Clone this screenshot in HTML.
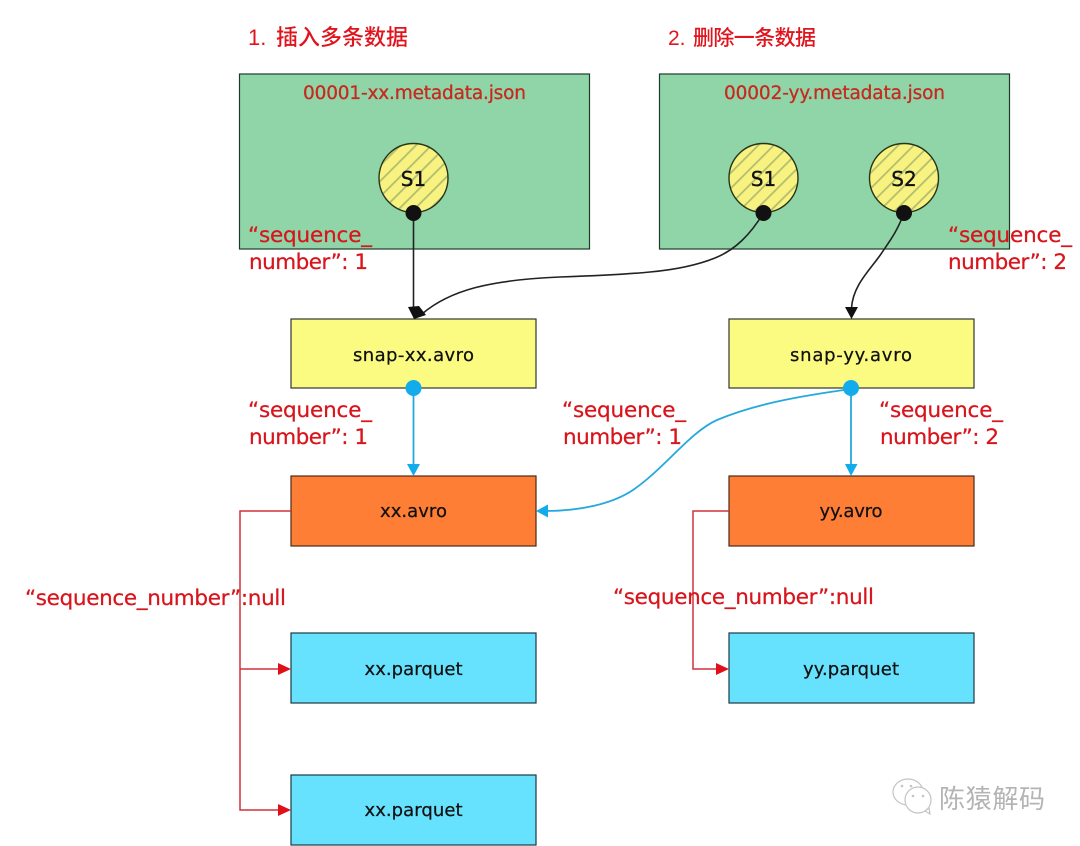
<!DOCTYPE html>
<html><head><meta charset="utf-8"><style>
html,body{margin:0;padding:0;background:#fff}
svg{display:block;filter:blur(.35px)}
text{font-family:"DejaVu Sans","Liberation Sans","Noto Sans CJK SC",sans-serif}
.r{fill:#d8141c;font-size:21.5px;stroke:#d8141c;stroke-width:.25}
.n{fill:#111;font-size:18px;text-anchor:middle;stroke:#111;stroke-width:.25}
.s{fill:#111;font-size:20px;text-anchor:middle;stroke:#111;stroke-width:.35}
.t{fill:#c8281e;font-size:18.500px;stroke:#c8281e;stroke-width:.3}
.h{fill:#e0141c;font-family:"Liberation Sans","Noto Sans CJK SC",sans-serif;font-weight:500}
</style></head><body>
<svg width="1080" height="846" viewBox="0 0 1080 846" xmlns="http://www.w3.org/2000/svg">
<defs>
<pattern id="hatch" width="11" height="11" patternUnits="userSpaceOnUse" patternTransform="rotate(-45)">
<rect width="11" height="11" fill="#f8f280"/><rect width="11" height="1.800" fill="#b4bd6e"/>
</pattern>
</defs>
<rect width="1080" height="846" fill="#fff"/>

<text class="h" x="248" y="45" font-size="22">1.</text>
<text class="h" x="276" y="45" font-size="22" textLength="132">插入多条数据</text>
<text class="h" x="668" y="45" font-size="21">2.</text>
<text class="h" x="693" y="45" font-size="21" textLength="123">删除一条数据</text>

<rect x="239.500" y="74" width="350" height="175" fill="#8fd5a8" stroke="#1f3a2a" stroke-width="1.2"/>
<rect x="659.500" y="74" width="350" height="175" fill="#8fd5a8" stroke="#1f3a2a" stroke-width="1.2"/>
<text class="t" x="303" y="99" textLength="223">00001-xx.metadata.json</text>
<text class="t" x="724" y="99" textLength="221">00002-yy.metadata.json</text>

<circle cx="413.500" cy="178" r="34.500" fill="url(#hatch)" stroke="#26341a" stroke-width="1.4"/>
<circle cx="763.500" cy="178" r="34.500" fill="url(#hatch)" stroke="#26341a" stroke-width="1.4"/>
<circle cx="904" cy="178" r="34.500" fill="url(#hatch)" stroke="#26341a" stroke-width="1.4"/>
<text class="s" x="413.500" y="186">S1</text>
<text class="s" x="763.500" y="186">S1</text>
<text class="s" x="904" y="186">S2</text>

<rect x="291" y="319" width="245" height="69" fill="#fbfb82" stroke="#333" stroke-width="1.2"/>
<rect x="729" y="319" width="245" height="69" fill="#fbfb82" stroke="#333" stroke-width="1.2"/>
<rect x="291" y="476" width="245" height="70" fill="#fe7e36" stroke="#4a2a18" stroke-width="1.2"/>
<rect x="729" y="476" width="245" height="70" fill="#fe7e36" stroke="#4a2a18" stroke-width="1.2"/>
<rect x="291" y="633" width="245" height="70" fill="#66e2fe" stroke="#1c3a44" stroke-width="1.2"/>
<rect x="729" y="633" width="245" height="70" fill="#66e2fe" stroke="#1c3a44" stroke-width="1.2"/>
<rect x="291" y="775" width="245" height="70" fill="#66e2fe" stroke="#1c3a44" stroke-width="1.2"/>

<text class="n" x="413.500" y="361" textLength="121">snap-xx.avro</text>
<text class="n" x="851" y="361" textLength="122">snap-yy.avro</text>
<text class="n" x="413.500" y="517" textLength="67">xx.avro</text>
<text class="n" x="851" y="517" textLength="63">yy.avro</text>
<text class="n" x="413.500" y="675" textLength="98">xx.parquet</text>
<text class="n" x="851" y="675" textLength="96">yy.parquet</text>
<text class="n" x="413.500" y="816" textLength="98">xx.parquet</text>

<!-- black connectors -->
<g fill="none" stroke="#222" stroke-width="1.6">
<path d="M413.500 213V312"/>
<path d="M763.500 213C750 235 735 250 715 258C695 266 672 270 650 272C620 275 590 276 560 277C490 280 450 290 422 314"/>
<path d="M904 213C897 232 889 242 881 254C870 270 853 285 851.500 308"/>
</g>
<circle cx="413.500" cy="213" r="8" fill="#111"/>
<circle cx="763.500" cy="213" r="8" fill="#111"/>
<circle cx="904" cy="213" r="8" fill="#111"/>
<path d="M408 307L419 306L426 315L414 319Z" fill="#111"/>
<path d="M845 307H858L851.500 319Z" fill="#111"/>

<!-- blue connectors -->
<g fill="none" stroke="#25a9dc" stroke-width="1.8">
<path d="M413.500 388V465"/>
<path d="M851 388V465"/>
<path d="M851 389C800 396 755 404 717 420C690 432 665 468 633 490C612 504 580 511 545 511"/>
</g>
<circle cx="413.500" cy="388" r="8" fill="#12acec"/>
<circle cx="851" cy="388" r="8" fill="#12acec"/>
<path d="M407 464H420L413.500 476Z" fill="#12acec"/>
<path d="M845 464H857.500L851 476Z" fill="#12acec"/>
<path d="M536 511L548 504.500V517.500Z" fill="#12acec"/>

<!-- red connectors -->
<g fill="none" stroke="#d03038" stroke-width="1.5">
<path d="M291 511H240V810H280"/>
<path d="M240 669H280"/>
<path d="M729 511H693V669H718"/>
</g>
<path d="M291 669L278 663V675Z" fill="#e01018"/>
<path d="M291 810L278 804V816Z" fill="#e01018"/>
<path d="M729 669L716 663V675Z" fill="#e01018"/>

<!-- labels -->
<text class="r" x="248" y="242" textLength="124">“sequence_</text>
<text class="r" x="249" y="269" textLength="119">number”: 1</text>
<text class="r" x="948" y="242" textLength="124">“sequence_</text>
<text class="r" x="948" y="269" textLength="119">number”: 2</text>
<text class="r" x="248" y="417" textLength="124">“sequence_</text>
<text class="r" x="249" y="444" textLength="119">number”: 1</text>
<text class="r" x="562" y="417" textLength="124">“sequence_</text>
<text class="r" x="563" y="444" textLength="119">number”: 1</text>
<text class="r" x="879" y="417" textLength="124">“sequence_</text>
<text class="r" x="880" y="444" textLength="119">number”: 2</text>
<text class="r" x="25" y="605" textLength="261">“sequence_number”:null</text>
<text class="r" x="613" y="604" textLength="261">“sequence_number”:null</text>

<!-- watermark -->
<g fill="#fff" stroke="#c4c4c4" stroke-width="1.2">
<ellipse cx="908" cy="792" rx="15" ry="13"/>
<path d="M914 803L921 809" fill="none"/>
<ellipse cx="918" cy="800" rx="13" ry="13"/>
<path d="M925 811L930 814L929 808Z"/>
</g>
<g fill="#c4c4c4"><circle cx="902" cy="786" r="1.3"/><circle cx="911" cy="786" r="1.3"/><circle cx="913" cy="796" r="1.3"/><circle cx="923" cy="796" r="1.3"/></g>
<text x="939" y="808" font-size="26" fill="#b4b4b4" textLength="106" style='font-family:"Noto Sans CJK SC",sans-serif'>陈猿解码</text>
</svg>
</body></html>
